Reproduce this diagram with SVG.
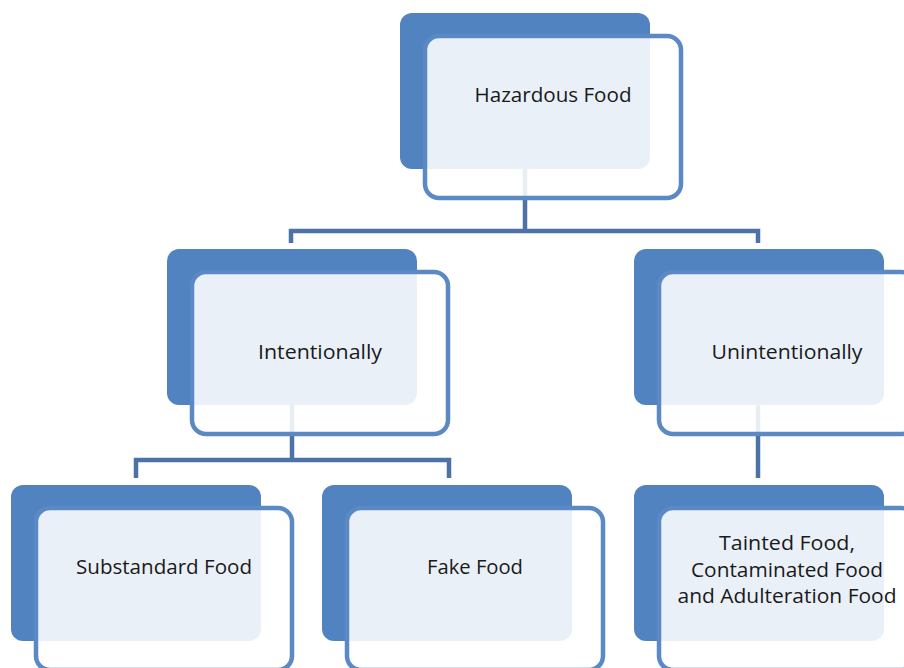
<svg xmlns="http://www.w3.org/2000/svg" width="904" height="668" viewBox="0 0 904 668">
<style>
.back{fill:#5283C1}
.front{fill:#ffffff;fill-opacity:0.88;stroke:#5A89C4;stroke-width:4.5}
.conn{fill:none;stroke:#4D72A6;stroke-width:4.5;stroke-linejoin:miter}
.lbl{font-family:"Open Sans","Noto Sans",sans-serif;font-size:20px;fill:#1a1a1a;text-anchor:middle}
</style>
<rect width="904" height="668" fill="#ffffff"/>
<g id="connectors">
<path class="conn" d="M525,169 V231 M291,243 V231 H758 V243"/>
<path class="conn" d="M292,405 V460 M136,478 V460 H449 V478"/>
<path class="conn" d="M758,405 V478"/>
</g>
<g id="node-hazardous">
<rect class="back" x="400" y="13" width="250" height="156" rx="12"/>
<rect class="front" x="425" y="36" width="256" height="162" rx="14"/>
<text class="lbl" x="553" y="102" textLength="157" lengthAdjust="spacingAndGlyphs">Hazardous Food</text>
</g>
<g id="node-intentionally">
<rect class="back" x="167" y="249" width="250" height="156" rx="12"/>
<rect class="front" x="192" y="272" width="256" height="162" rx="14"/>
<text class="lbl" x="320" y="359" textLength="124" lengthAdjust="spacingAndGlyphs">Intentionally</text>
</g>
<g id="node-unintentionally">
<rect class="back" x="634" y="249" width="250" height="156" rx="12"/>
<rect class="front" x="659" y="272" width="256" height="162" rx="14"/>
<text class="lbl" x="787" y="359" textLength="151" lengthAdjust="spacingAndGlyphs">Unintentionally</text>
</g>
<g id="node-substandard">
<rect class="back" x="11" y="485" width="250" height="156" rx="12"/>
<rect class="front" x="36" y="508" width="256" height="162" rx="14"/>
<text class="lbl" x="164" y="574" textLength="176" lengthAdjust="spacingAndGlyphs">Substandard Food</text>
</g>
<g id="node-fake">
<rect class="back" x="322" y="485" width="250" height="156" rx="12"/>
<rect class="front" x="347" y="508" width="256" height="162" rx="14"/>
<text class="lbl" x="475" y="574" textLength="96" lengthAdjust="spacingAndGlyphs">Fake Food</text>
</g>
<g id="node-tainted">
<rect class="back" x="634" y="485" width="250" height="156" rx="12"/>
<rect class="front" x="659" y="508" width="256" height="162" rx="14"/>
<text class="lbl" x="787" y="550" textLength="136" lengthAdjust="spacingAndGlyphs">Tainted Food,</text>
<text class="lbl" x="787" y="577" textLength="192" lengthAdjust="spacingAndGlyphs">Contaminated Food</text>
<text class="lbl" x="787" y="603" textLength="219" lengthAdjust="spacingAndGlyphs">and Adulteration Food</text>
</g>
</svg>
